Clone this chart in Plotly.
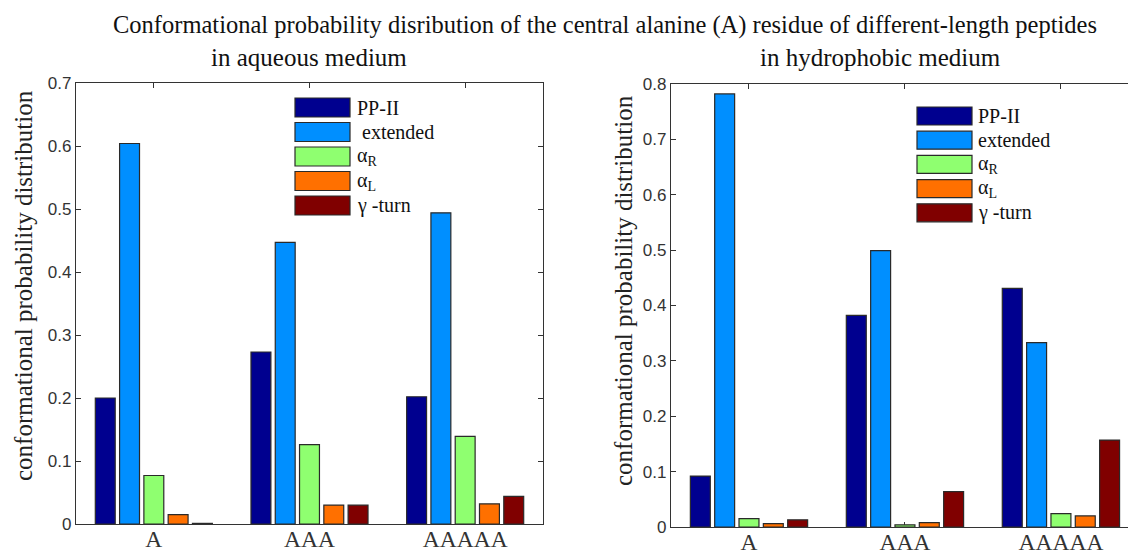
import plotly.graph_objects as go

W, H = 1128, 552

categories = ["A", "AAA", "AAAAA"]
series_names = ["PP-II", "extended", "αR", "αL", "γ-turn"]
legend_labels_left = ["PP-II", " extended", "α<sub>R</sub>", "α<sub>L</sub>", "γ -turn"]
legend_labels_right = ["PP-II", "extended", "α<sub>R</sub>", "α<sub>L</sub>", "γ -turn"]
colors = ["#00008F", "#008FFF", "#8FFF70", "#FF7000", "#800000"]
y_title = "conformational probability distribution"

# aqueous medium
aq_ppii = [0.200, 0.273, 0.202]
aq_ext = [0.604, 0.447, 0.494]
aq_aR = [0.077, 0.126, 0.139]
aq_aL = [0.015, 0.030, 0.032]
aq_gt = [0.001, 0.030, 0.044]

# hydrophobic medium
hy_ppii = [0.092, 0.382, 0.431]
hy_ext = [0.782, 0.499, 0.333]
hy_aR = [0.015, 0.004, 0.024]
hy_aL = [0.006, 0.008, 0.020]
hy_gt = [0.013, 0.064, 0.157]

left_ticks = [0, 0.1, 0.2, 0.3, 0.4, 0.5, 0.6, 0.7]
right_ticks = [0, 0.1, 0.2, 0.3, 0.4, 0.5, 0.6, 0.7, 0.8]

aq = [aq_ppii, aq_ext, aq_aR, aq_aL, aq_gt]
hy = [hy_ppii, hy_ext, hy_aR, hy_aL, hy_gt]
xpos = [1, 2, 3]

def px(x):
    return x / W

def py(y):
    return 1 - y / H

fig = go.Figure()
for i, name in enumerate(series_names):
    fig.add_trace(go.Bar(x=xpos, y=aq[i], name=name, marker=dict(color=colors[i], line=dict(color="#2a2a2a", width=1.2)),
                         xaxis="x", yaxis="y", showlegend=False, offsetgroup=str(i)))
for i, name in enumerate(series_names):
    fig.add_trace(go.Bar(x=xpos, y=hy[i], name=name, marker=dict(color=colors[i], line=dict(color="#2a2a2a", width=1.2)),
                         xaxis="x2", yaxis="y2", showlegend=False, offsetgroup=str(i)))

serif = "Liberation Serif, serif"
tickfont = dict(family="Liberation Sans, sans-serif", size=17, color="#333")
catfont = dict(family=serif, size=23.5, color="#333")

common_x = dict(tickmode="array", tickvals=xpos, ticktext=categories, ticks="inside", ticklen=5,
                tickcolor="#333", showline=True, linecolor="#333", linewidth=1.2, mirror="ticks",
                showgrid=False, zeroline=False, tickfont=catfont, layer="below traces", automargin=False,
                ticklabelstandoff=-6)
common_y = dict(ticks="inside", ticklen=5, tickcolor="#333", showline=True, linecolor="#333", linewidth=1.2,
                showgrid=False, zeroline=False, tickfont=tickfont, layer="below traces", automargin=False)

fig.update_layout(
    width=W, height=H, margin=dict(l=0, r=0, t=0, b=0, autoexpand=False),
    paper_bgcolor="white", plot_bgcolor="white",
    barmode="group", bargap=0.22, bargroupgap=0.18,
    xaxis=dict(domain=[px(76), px(543)], range=[0.5, 3.5], anchor="y", **common_x),
    yaxis=dict(domain=[py(524), py(83)], range=[0, 0.7], tickvals=left_ticks,
               ticktext=[("%g" % t) for t in left_ticks], anchor="x", mirror="ticks", **common_y),
    xaxis2=dict(domain=[px(671), 1.0], range=[0.5, 3.43], anchor="y2", **common_x),
    yaxis2=dict(domain=[py(527), py(84)], range=[0, 0.8], tickvals=right_ticks,
                ticktext=[("%g" % t) for t in right_ticks], anchor="x2", mirror=False, **common_y),
    showlegend=False,
)

annotations = [
    dict(text="Conformational probability disribution of the central alanine (A) residue of different-length peptides",
         x=px(605), y=py(25), xref="paper", yref="paper", showarrow=False, xanchor="center", yanchor="middle",
         font=dict(family=serif, size=24.5, color="#111")),
    dict(text="in aqueous medium", x=px(309), y=py(57), xref="paper", yref="paper", showarrow=False,
         xanchor="center", yanchor="middle", font=dict(family=serif, size=25, color="#111")),
    dict(text="in hydrophobic medium", x=px(880), y=py(57), xref="paper", yref="paper", showarrow=False,
         xanchor="center", yanchor="middle", font=dict(family=serif, size=25, color="#111")),
    dict(text=y_title, x=px(23), y=py(286), xref="paper", yref="paper", showarrow=False, textangle=-90,
         xanchor="center", yanchor="middle", font=dict(family=serif, size=25, color="#222")),
    dict(text=y_title, x=px(623), y=py(291), xref="paper", yref="paper", showarrow=False, textangle=-90,
         xanchor="center", yanchor="middle", font=dict(family=serif, size=25, color="#222")),
]
shapes = []

def add_legend(x0, y0, pitch, sw_w, sw_h, labels, text_dx):
    for i, lab in enumerate(labels):
        top = y0 + i * pitch
        shapes.append(dict(type="rect", xref="paper", yref="paper", x0=px(x0), x1=px(x0 + sw_w),
                           y0=py(top + sw_h), y1=py(top), fillcolor=colors[i],
                           line=dict(color="#2a2a2a", width=1.2)))
        annotations.append(dict(text=lab, x=px(x0 + sw_w + text_dx), y=py(top + sw_h / 2), xref="paper", yref="paper",
                                showarrow=False, xanchor="left", yanchor="middle",
                                font=dict(family=serif, size=20, color="#111")))

add_legend(295, 98, 24.5, 55, 19, legend_labels_left, 5)
add_legend(917, 107, 24.2, 55, 18, legend_labels_right, 4)

fig.update_layout(annotations=annotations, shapes=shapes)
fig.write_html("out.html", config={"displayModeBar": False},
               post_script="document.body.style.margin='0';document.body.style.overflow='hidden';")
